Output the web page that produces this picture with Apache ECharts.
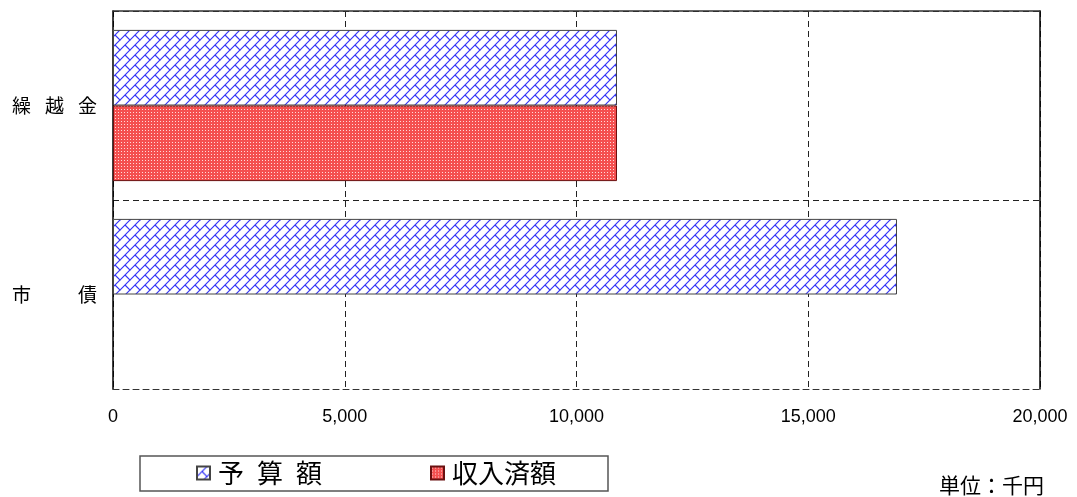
<!DOCTYPE html>
<html lang="ja">

<head>
    <meta charset="UTF-8">
    <title>歳入 予算額・収入済額</title>
    <script src="https://cdn.jsdelivr.net/npm/echarts@6/dist/echarts.min.js"></script>
    <style>
        body { margin: 0; background: #fff; }
        #main { width: 1077px; height: 497px; }
    </style>
</head>

<body>
    <div id="main"></div>
    <script>
        // 区分と金額（千円）
        var categories = ['繰越金', '市債'];
        var seriesNames = ['予\u2002算\u2002額', '収入済額'];
        var budget = [10874, 16915];
        var received = [10874, 0];
        var xTicks = [0, 5000, 10000, 15000, 20000];

        // 予算額: 斜めレンガ模様
        function brickPattern() {
            var c = document.createElement('canvas');
            c.width = 10; c.height = 10;
            var g = c.getContext('2d');
            g.fillStyle = '#fff';
            g.fillRect(0, 0, 10, 10);
            g.strokeStyle = '#3535f6';
            g.lineWidth = 1.2;
            g.beginPath();
            g.moveTo(-2, 12); g.lineTo(12, -2);
            g.moveTo(-2, 2); g.lineTo(2, -2);
            g.moveTo(8, 12); g.lineTo(12, 8);
            g.moveTo(5, 5); g.lineTo(11, 11);
            g.moveTo(-1, -1); g.lineTo(0.5, 0.5);
            g.stroke();
            return c;
        }
        // 収入済額: 細かい点模様
        function dotPattern() {
            var c = document.createElement('canvas');
            c.width = 3; c.height = 3;
            var g = c.getContext('2d');
            g.fillStyle = '#f45050';
            g.fillRect(0, 0, 3, 3);
            g.fillStyle = '#ffdada';
            g.fillRect(1, 1, 1, 1);
            return c;
        }

        var myChart = echarts.init(document.getElementById('main'));
        var labelFont = '"Noto Sans CJK JP", sans-serif';
        var option = {
            animation: false,
            textStyle: { fontFamily: labelFont },
            grid: { left: 113, right: 37, top: 11, bottom: 108 },
            legend: {
                left: 140,
                top: 456,
                padding: [4, 52, 5, 56],
                itemGap: 108,
                itemWidth: 13,
                itemHeight: 13,
                icon: 'rect',
                borderColor: '#555',
                borderWidth: 1.5,
                textStyle: { fontSize: 26, color: '#000', fontFamily: labelFont, padding: [0, 0, 0, 3] },
                data: seriesNames
            },
            xAxis: [{
                type: 'value',
                min: xTicks[0],
                max: xTicks[xTicks.length - 1],
                interval: 5000,
                axisLine: { show: true, onZero: false, lineStyle: { color: '#333', type: [6, 4] } },
                axisTick: { show: false },
                axisLabel: {
                    margin: 19,
                    fontSize: 18,
                    color: '#000',
                    fontFamily: '"Liberation Sans", Arial, sans-serif',
                    formatter: function (v) { return v.toLocaleString('en-US'); }
                },
                splitLine: { show: true, lineStyle: { color: '#222', type: [6, 4] } }
            }, {
                type: 'value',
                position: 'top',
                min: xTicks[0],
                max: xTicks[xTicks.length - 1],
                axisLine: { show: true, onZero: false, lineStyle: { color: '#333', width: 1.5 } },
                axisTick: { show: false },
                axisLabel: { show: false },
                splitLine: { show: false }
            }],
            yAxis: [{
                type: 'category',
                inverse: true,
                data: categories,
                axisLine: { show: true, onZero: false, lineStyle: { color: '#000', width: 1.5 } },
                axisTick: { show: false },
                splitLine: { show: true, lineStyle: { color: '#222', type: [6, 4] } },
                axisLabel: {
                    margin: 16,
                    color: '#000',
                    fontSize: 19,
                    formatter: function (v) {
                        if (v === '繰越金') return '{c|繰}{c|越}{e|金}';
                        return '{w|市}{e|債}';
                    },
                    rich: {
                        c: { width: 33, fontSize: 19, color: '#000', align: 'left' },
                        w: { width: 66, fontSize: 19, color: '#000', align: 'left' },
                        e: { fontSize: 19, color: '#000' }
                    }
                }
            }, {
                type: 'category',
                position: 'right',
                inverse: true,
                data: categories,
                axisLine: { show: true, onZero: false, lineStyle: { color: '#000', width: 1.5 } },
                axisTick: { show: false },
                axisLabel: { show: false },
                splitLine: { show: false }
            }],
            graphic: [{
                type: 'text',
                right: 33,
                top: 475,
                style: { text: '単位：千円', fill: '#000', font: '21px "Noto Sans CJK JP"' }
            }],
            series: [{
                name: seriesNames[0],
                type: 'bar',
                data: budget,
                barGap: 0,
                barCategoryGap: '20%',
                itemStyle: { color: { image: brickPattern(), repeat: 'repeat' }, borderColor: '#444', borderWidth: 1 }
            }, {
                name: seriesNames[1],
                type: 'bar',
                // 0 は棒を描かない
                data: received.map(function (v) { return v === 0 ? '-' : v; }),
                itemStyle: { color: { image: dotPattern(), repeat: 'repeat' }, borderColor: '#6a1010', borderWidth: 1 }
            }]
        };
        myChart.setOption(option);
    </script>
</body>

</html>
